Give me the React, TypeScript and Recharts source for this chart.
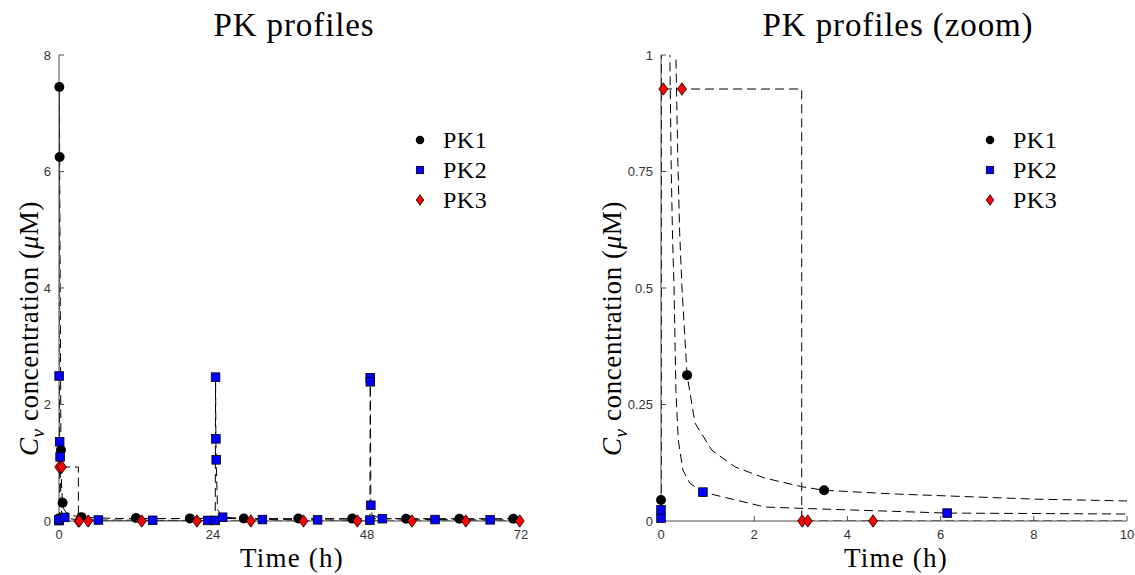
import React from "react";
import { ComposedChart, Line, Scatter, XAxis, YAxis } from "recharts";

// simulated curves, time (h) and plasma concentration (uM)
const pk1CurveT = [0, 0, 0.05, 0.1, 0.3, 0.32, 0.36, 0.4, 0.45, 0.56, 0.73, 1.09, 1.59, 2.23, 3.05, 3.5, 5, 8, 10, 24, 48, 72];
const pk1CurveC = [0, 0.045, 7.45, 6.25, 1.22, 1.0, 0.78, 0.62, 0.5, 0.313, 0.21, 0.152, 0.116, 0.092, 0.073, 0.066, 0.058, 0.047, 0.043, 0.042, 0.04, 0.04];

const pk2CurveT = [0, 0, 0.02, 0.1, 0.17, 0.19, 0.22, 0.25, 0.28, 0.32, 0.37, 0.47, 0.62, 0.9, 2.23, 3.05, 6.14, 10, 14.6, 23.2, 24.35, 24.4, 24.45, 24.5, 24.7, 25.5, 31.7, 40.3, 48.45, 48.5, 48.52, 48.6, 48.8, 50.4, 58.6, 67.2, 72];
const pk2CurveC = [0, 0.024, 2.49, 1.36, 1.1, 1.0, 0.75, 0.6, 0.5, 0.28, 0.174, 0.109, 0.081, 0.062, 0.03, 0.027, 0.017, 0.015, 0.012, 0.01, 0.01, 2.47, 1.41, 1.05, 0.2, 0.065, 0.025, 0.02, 0.015, 2.46, 2.39, 0.27, 0.1, 0.04, 0.025, 0.02, 0.018];

const pk3CurveT = [0, 0, 3.02, 3.02, 72];
const pk3CurveC = [0, 0.927, 0.927, 0, 0];

// sampled points shown with markers
const pk1MarkT = [0, 0.05, 0.1, 0.3, 0.56, 3.5, 12.0, 20.4, 28.8, 37.3, 45.7, 54.1, 62.4, 70.8];
const pk1MarkC = [0.045, 7.45, 6.25, 1.22, 0.313, 0.066, 0.05, 0.045, 0.043, 0.042, 0.041, 0.04, 0.04, 0.04];

const pk2MarkT = [0, 0, 0.02, 0.1, 0.17, 0.9, 6.14, 14.6, 23.2, 24.35, 24.4, 24.45, 24.5, 25.5, 31.7, 40.3, 48.45, 48.5, 48.52, 48.6, 50.4, 58.6, 67.2];
const pk2MarkC = [0.006, 0.024, 2.49, 1.36, 1.1, 0.062, 0.017, 0.012, 0.01, 0.01, 2.47, 1.41, 1.05, 0.065, 0.025, 0.02, 0.015, 2.46, 2.39, 0.27, 0.04, 0.025, 0.02];

const pk3MarkT = [0.05, 0.45, 3.03, 3.15, 4.55, 12.9, 21.5, 29.9, 38.1, 46.5, 55.0, 63.4, 71.8];
const pk3MarkC = [0.927, 0.927, 0, 0, 0, 0, 0, 0, 0, 0, 0, 0, 0];

const seriesNames = ["PK1", "PK2", "PK3"];

const fullTicksX = [0, 24, 48, 72];
const fullTicksY = [0, 2, 4, 6, 8];
const zoomTicksX = [0, 2, 4, 6, 8, 10];
const zoomTicksY = [0, 0.25, 0.5, 0.75, 1];

const serif = "'Liberation Serif', 'Times New Roman', serif";
const sans = "'Liberation Sans', Arial, sans-serif";
const axisColor = "#4d4d4d";

const pts = (t: number[], c: number[]) => t.map((x, i) => ({ t: x, c: c[i] }));

const curves = [pts(pk1CurveT, pk1CurveC), pts(pk2CurveT, pk2CurveC), pts(pk3CurveT, pk3CurveC)];
const marks = [pts(pk1MarkT, pk1MarkC), pts(pk2MarkT, pk2MarkC), pts(pk3MarkT, pk3MarkC)];

function Marker({ kind, cx, cy, small }: { kind: number; cx: number; cy: number; small?: boolean }) {
  const k = small ? 0.85 : 1;
  if (kind === 0) return <circle cx={cx} cy={cy} r={5 * k} fill="#000" />;
  if (kind === 1) {
    const h = 4.3 * k;
    return <rect x={cx - h} y={cy - h} width={2 * h} height={2 * h} fill="#0000ff" stroke="#000" strokeWidth={0.8} />;
  }
  const w = 4.5 * k;
  const h = 6.2 * k;
  return (
    <polygon
      points={`${cx},${cy - h} ${cx + w},${cy} ${cx},${cy + h} ${cx - w},${cy}`}
      fill="#ff0000"
      stroke="#000"
      strokeWidth={0.8}
    />
  );
}

type PanelProps = {
  left: number;
  width: number;
  plotLeft: number;
  xMax: number;
  yMax: number;
  xTicks: number[];
  yTicks: number[];
};

function Panel({ left, width, plotLeft, xMax, yMax, xTicks, yTicks }: PanelProps) {
  const plotRight = left + width - (plotLeft + 466 + (xMax === 72 ? -4 : 0));
  const shown = marks.map((m) => m.filter((p) => p.t <= xMax && p.c <= yMax));
  const tickStyle = { fill: "#333", fontSize: 13, fontFamily: sans };
  return (
    <div style={{ position: "absolute", left, top: 0, width, height: 575 }}>
      <ComposedChart
        width={width}
        height={575}
        margin={{ top: 55, right: plotRight, bottom: 24, left: plotLeft - left - 50 }}
      >
        <XAxis
          dataKey="t"
          type="number"
          domain={[0, xMax]}
          ticks={xTicks}
          height={30}
          tickSize={-5}
          tickMargin={14}
          stroke={axisColor}
          tick={tickStyle}
        />
        <YAxis
          dataKey="c"
          type="number"
          domain={[0, yMax]}
          ticks={yTicks}
          width={50}
          tickSize={-5}
          tickMargin={13}
          stroke={axisColor}
          tick={tickStyle}
        />
        <XAxis xAxisId="top" orientation="top" type="number" domain={[0, xMax]} ticks={xTicks} height={0} tickSize={-5} tick={false} stroke={axisColor} />
        <YAxis yAxisId="right" orientation="right" type="number" domain={[0, yMax]} ticks={yTicks} width={0} tickSize={-5} tick={false} stroke={axisColor} />
        <XAxis xAxisId="c" dataKey="t" type="number" domain={[0, xMax]} allowDataOverflow hide />
        <YAxis yAxisId="c" dataKey="c" type="number" domain={[0, yMax]} allowDataOverflow hide />
        {curves.map((d, i) => (
          <Line
            key={"l" + i}
            data={d}
            dataKey="c"
            xAxisId="c"
            yAxisId="c"
            type="linear"
            stroke="#000"
            strokeWidth={1}
            strokeDasharray="9 5"
            dot={false}
            activeDot={false}
            legendType="none"
            isAnimationActive={false}
          />
        ))}
        {shown.map((d, i) => (
          <Scatter
            key={"s" + i}
            name={seriesNames[i]}
            data={d}
            dataKey="c"
            isAnimationActive={false}
            shape={(p: any) => <Marker kind={i} cx={p.cx} cy={p.cy} />}
          />
        ))}
      </ComposedChart>
    </div>
  );
}

function Overlay() {
  const yLabel = (x: number) => (
    <text
      transform={`translate(${x},456) rotate(-90)`}
      textAnchor="start"
      fontFamily={serif}
      fontSize={27}
      letterSpacing={0.6}
      fill="#000"
    >
      <tspan fontStyle="italic">C</tspan>
      <tspan fontStyle="italic" fontSize={19} dy={6}>v</tspan>
      <tspan dy={-6}> concentration (</tspan>
      <tspan fontStyle="italic">μ</tspan>
      <tspan>M)</tspan>
    </text>
  );
  const legend = (mx: number) =>
    seriesNames.map((n, i) => (
      <g key={n + mx}>
        <Marker kind={i} cx={mx} cy={140 + i * 30} small />
        <text x={mx + 23} y={148 + i * 30} fontFamily={serif} fontSize={24} letterSpacing={0.5} fill="#000">
          {n}
        </text>
      </g>
    ));
  const title = { fontFamily: serif, fontSize: 33, letterSpacing: 0.9, textAnchor: "middle" as const };
  const xLab = { fontFamily: serif, fontSize: 27, letterSpacing: 1.2, textAnchor: "middle" as const };
  return (
    <svg width={1135} height={575} style={{ position: "absolute", left: 0, top: 0, pointerEvents: "none" }}>
      <text x={294} y={36} {...title}>PK profiles</text>
      <text x={898} y={36} {...title}>PK profiles (zoom)</text>
      <text x={292} y={567} {...xLab}>Time (h)</text>
      <text x={896} y={567} {...xLab}>Time (h)</text>
      {yLabel(38)}
      {yLabel(621)}
      {legend(420)}
      {legend(990)}
    </svg>
  );
}

export default function App() {
  return (
    <div style={{ position: "absolute", left: 0, top: 0, width: 1135, height: 575, background: "#fff" }}>
      <Panel left={0} width={560} plotLeft={59} xMax={72} yMax={8} xTicks={fullTicksX} yTicks={fullTicksY} />
      <Panel left={580} width={555} plotLeft={661} xMax={10} yMax={1} xTicks={zoomTicksX} yTicks={zoomTicksY} />
      <Overlay />
    </div>
  );
}
